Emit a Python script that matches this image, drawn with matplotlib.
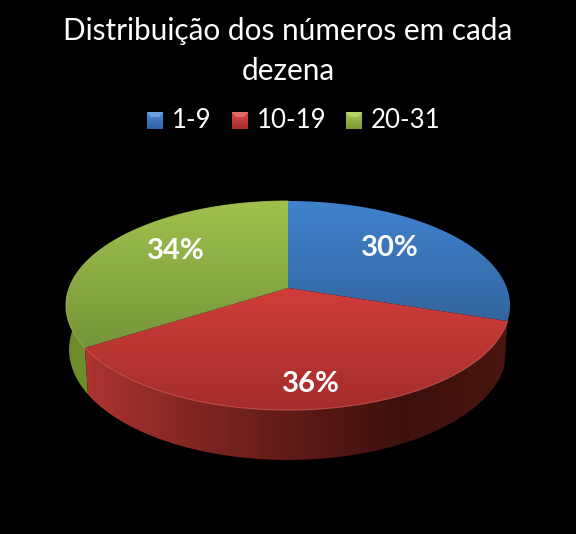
#!/usr/bin/env python3
"""Perspective 3D-look pie: distribution of numbers per ten."""

import matplotlib
matplotlib.use("Agg")
import matplotlib.pyplot as plt
import numpy as np
from matplotlib.colors import LinearSegmentedColormap
from matplotlib.patches import Polygon

# ── Data ───────────────────────────────────────────────────────────────────
categories = ["1-9", "10-19", "20-31"]
shares = [30, 36, 34]
title_lines = ["Distribuição dos números em cada", "dezena"]

# ── Style ──────────────────────────────────────────────────────────────────
top_colors = [("#4182ce", "#33659f"), ("#d03e3b", "#a32d2b"), ("#9fc14c", "#76953a")]
side_colors = [None, ("#ad3431", "#822622", "#5e1a17", "#3c110d", "#4a1610"), ("#6c8c2c", "#7fa234")]
swatch_colors = [("#4f8ad6", "#2f62a6"), ("#d04a47", "#a82c2a"), ("#a4c852", "#7c9c34")]
bevel_colors = ["#6a9fe0", "#dd6c69", "#b8d668"]
label_pos = [(390, 248), (311, 384), (176, 251)]
legend_x = [147, 232, 346]

CX, CY = 288, 288
R, S, K = 218.9, 101.6, 0.1675   # projected circle: radius, depth scale, perspective
DROP, SINK = 43.9, 0.0137        # offset of the lower rim


def project(theta, lower=False):
    """Clockwise angle from 12 o'clock -> pixel position on the rim."""
    x, z = np.sin(theta), -np.cos(theta)
    w = 1 - K * z + (SINK if lower else 0)
    off = DROP if lower else 0
    return CX + R * x / w, CY + (S * z + off) / w


def gradient_fill(ax, poly_xy, colors, horizontal=False):
    """Fill a polygon with a linear gradient."""
    poly_xy = np.asarray(poly_xy)
    x0, x1 = poly_xy[:, 0].min(), poly_xy[:, 0].max()
    y0, y1 = poly_xy[:, 1].min(), poly_xy[:, 1].max()
    cmap = LinearSegmentedColormap.from_list("g", colors)
    ramp = np.linspace(0, 1, 256)
    ramp = ramp[None, :] if horizontal else ramp[:, None]
    im = ax.imshow(ramp, cmap=cmap, extent=(x0, x1, y1, y0), aspect="auto",
                   interpolation="bilinear", zorder=next(counter))
    clip = Polygon(poly_xy, closed=True, transform=ax.transData, fc="none", ec="none")
    ax.add_patch(clip)
    im.set_clip_path(clip)


fig = plt.figure(figsize=(5.76, 5.34), dpi=100, facecolor="black")
ax = fig.add_axes([0, 0, 1, 1], facecolor="black")
counter = iter(range(1, 1000))

# slice boundaries from the values
edges = np.cumsum([0] + shares) / sum(shares) * 2 * np.pi
arcs = [np.linspace(a, b, 200) for a, b in zip(edges[:-1], edges[1:])]

# sides first: green behind red, the blue side is hidden
for i in (2, 1):
    tx, ty = project(arcs[i])
    bx, by = project(arcs[i], lower=True)
    side = np.r_[np.c_[tx, ty], np.c_[bx, by][::-1]]
    gradient_fill(ax, side, side_colors[i], horizontal=True)

# top faces
for i in range(3):
    tx, ty = project(arcs[i])
    face = np.r_[[[CX, CY]], np.c_[tx, ty]]
    gradient_fill(ax, face, top_colors[i])

# light rim along the front of the red slice and the green left edge
ax.plot(*project(arcs[1]), color="#d9605a", lw=0.8, alpha=0.7, zorder=500)
ax.plot(*project(arcs[2]), color="#9dbb55", lw=0.8, alpha=0.7, zorder=500)

for i, share in enumerate(shares):
    ax.text(*label_pos[i], f"{share}%", color="white", fontsize=21, fontweight="bold",
            family="Lato", ha="center", va="center", zorder=600)

for k, line in enumerate(title_lines):
    ax.text(288, 31 + 40 * k, line, color="white", fontsize=21.4, family="Lato",
            ha="center", va="center", zorder=600)

# legend
for i, name in enumerate(categories):
    x = legend_x[i]
    box = [(x, 112), (x + 16, 112), (x + 16, 129), (x, 129)]
    gradient_fill(ax, box, swatch_colors[i])
    bevel = [(x, 112), (x + 16, 112), (x + 12, 117), (x + 4, 117)]
    ax.add_patch(Polygon(bevel, closed=True, fc=bevel_colors[i], ec="none", zorder=590))
    ax.text(x + 25, 120, name, color="white", fontsize=18.6, family="Lato",
            ha="left", va="center", zorder=600)

ax.set_xlim(0, 576)
ax.set_ylim(534, 0)
ax.axis("off")
fig.savefig("out.png", dpi=100, facecolor="black")
